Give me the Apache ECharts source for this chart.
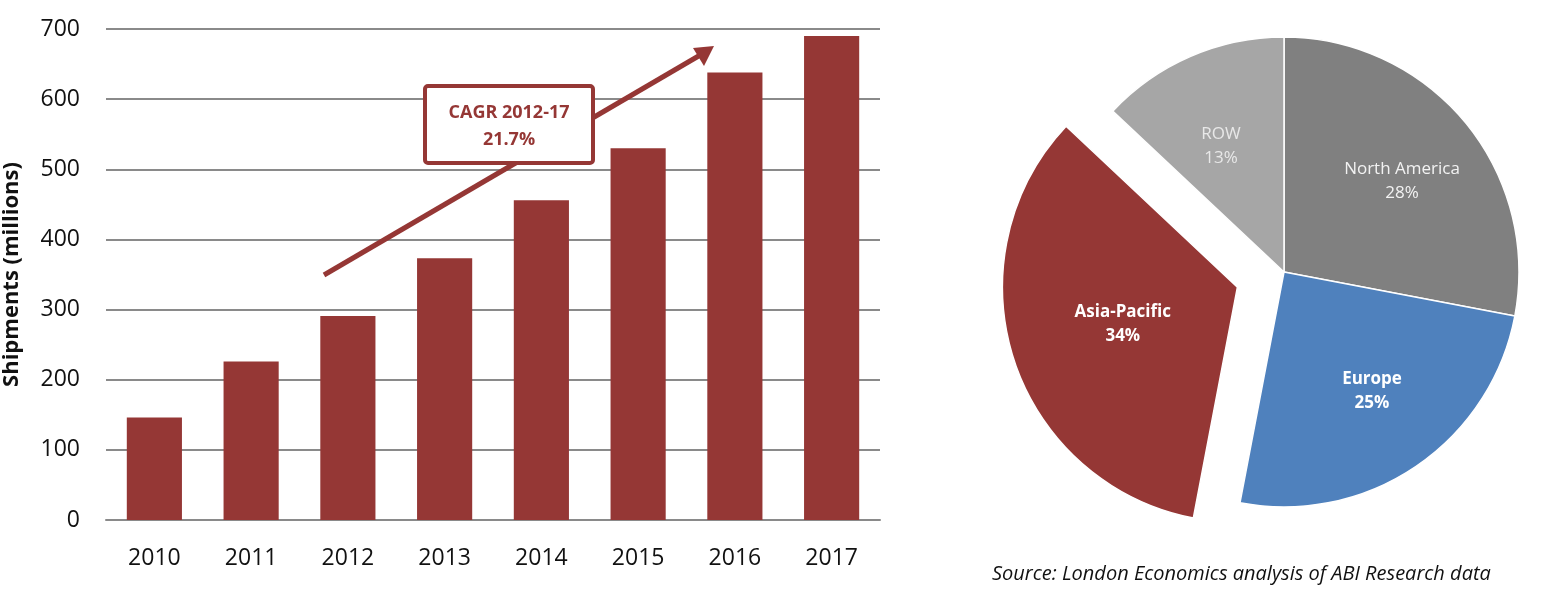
<!DOCTYPE html>
<html>
<head>
<meta charset="utf-8">
<script src="https://cdn.jsdelivr.net/npm/echarts@6/dist/echarts.min.js"></script>
<style>
html,body{margin:0;padding:0;background:#fff;}
#c{width:1562px;height:608px;}
</style>
</head>
<body>
<div id="c"></div>
<script>
// ---- data ----
const years = ['2010','2011','2012','2013','2014','2015','2016','2017'];
const shipments = [146, 226, 291, 373, 456, 530, 638, 690];
const yTicks = [0, 100, 200, 300, 400, 500, 600, 700];
const regions = ['North America', 'Europe', 'Asia-Pacific', 'ROW'];
const regionShare = [28, 25, 34, 13];
const cagrText = ['CAGR 2012-17', '21.7%'];
const sourceText = 'Source: London Economics analysis of ABI Research data';

// ---- styles ----
const RED = '#953735';
const FONT = '"Open Sans", "Noto Sans", sans-serif';
const sliceColors = ['#808080', '#4f81bd', RED, '#a6a6a6'];
const labelStyles = [
  {color:'#f2f2f2', fontWeight:'normal', x:1402, y:181},
  {color:'#ffffff', fontWeight:'bold', x:1372, y:391},
  {color:'#ffffff', fontWeight:'bold', x:1090, y:325},
  {color:'#e8e8e8', fontWeight:'normal', x:1221, y:146}
];

const chart = echarts.init(document.getElementById('c'), null, {renderer:'canvas'});

const option = {
  animation: false,
  backgroundColor: '#fff',
  textStyle: {fontFamily: FONT},
  grid: {left: 100, right: 682, top: 29, bottom: 88, containLabel: false},
  xAxis: {
    type: 'category',
    data: years,
    axisLine: {show: true, lineStyle: {color: '#8a8a8a', width: 2}},
    axisTick: {show: false},
    axisLabel: {color: '#111', fontSize: 23, fontFamily: FONT, margin: 27}
  },
  yAxis: {
    type: 'value',
    min: yTicks[0],
    max: yTicks[yTicks.length - 1],
    interval: 100,
    name: 'Shipments (millions)',
    nameLocation: 'middle',
    nameGap: 83,
    nameRotate: 90,
    nameTextStyle: {color: '#111', fontSize: 22, fontWeight: 'bold', fontFamily: FONT},
    axisLine: {show: false},
    axisTick: {show: false},
    axisLabel: {color: '#111', fontSize: 23, fontFamily: FONT, margin: 26},
    splitLine: {show: true, lineStyle: {color: '#8a8a8a', width: 2}}
  },
  series: [
    {
      type: 'bar',
      data: shipments,
      barWidth: '57%',
      itemStyle: {color: RED},
      z: 2
    },
    {
      type: 'pie',
      center: [1284, 272],
      radius: 235,
      startAngle: 90,
      clockwise: true,
      selectedMode: 'single',
      selectedOffset: 49,
      avoidLabelOverlap: false,
      emphasis: {disabled: true},
      labelLine: {show: false},
      itemStyle: {borderColor: '#ffffff', borderWidth: 1.5},
      label: {
        show: true,
        position: 'inside',
        fontSize: 17,
        lineHeight: 24,
        fontFamily: FONT,
        formatter: p => p.name + '\n' + p.value + '%'
      },
      labelLayout: p => {
        const s = labelStyles[p.dataIndex];
        return {x: s.x, y: s.y, align: 'center', verticalAlign: 'middle'};
      },
      data: regions.map((r, i) => ({
        name: r,
        value: regionShare[i],
        selected: r === 'Asia-Pacific',
        itemStyle: {color: sliceColors[i]},
        label: {color: labelStyles[i].color, fontWeight: labelStyles[i].fontWeight}
      }))
    }
  ],
  graphic: [
    {
      type: 'line', z: 10,
      shape: {x1: 324, y1: 275, x2: 702, y2: 54},
      style: {stroke: RED, lineWidth: 5, lineCap: 'butt'}
    },
    {
      type: 'polygon', z: 10,
      shape: {points: [[714, 46], [693, 48], [704, 66]]},
      style: {fill: RED}
    },
    {
      type: 'rect', z: 11,
      shape: {x: 425, y: 86, width: 168, height: 77, r: 3},
      style: {fill: '#ffffff', stroke: RED, lineWidth: 4}
    },
    {
      type: 'text', z: 12,
      style: {
        x: 509, y: 126,
        text: cagrText.join('\n'),
        fill: RED,
        font: 'bold 18px ' + FONT,
        lineHeight: 27,
        align: 'center',
        verticalAlign: 'middle'
      }
    },
    {
      type: 'text', z: 12,
      style: {
        x: 992, y: 574,
        text: sourceText,
        fill: '#111',
        font: 'italic 20px ' + FONT,
        align: 'left',
        verticalAlign: 'middle'
      }
    }
  ]
};

chart.setOption(option);
</script>
</body>
</html>
